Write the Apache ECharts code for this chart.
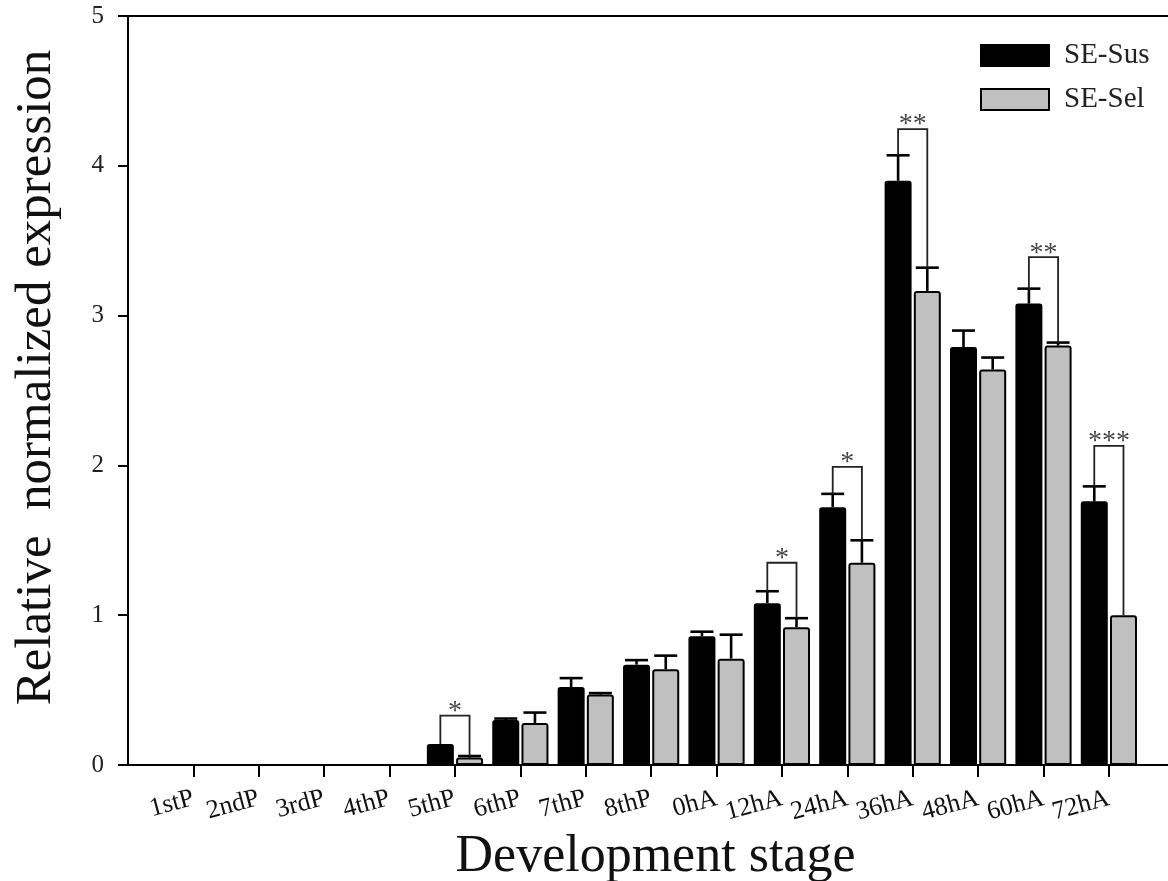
<!DOCTYPE html>
<html>
<head>
<meta charset="utf-8">
<script src="https://cdn.jsdelivr.net/npm/echarts@6/dist/echarts.min.js"></script>
<style>html,body{margin:0;padding:0;background:#fff;}#c{width:1168px;height:881px;}</style>
</head>
<body>
<div id="c"></div>
<script>
const categories = ['1stP','2ndP','3rdP','4thP','5thP','6thP','7thP','8thP','0hA','12hA','24hA','36hA','48hA','60hA','72hA'];
const positions = [1,2,3,4,5,6,7,8,9,10,11,12,13,14,15];
const susValues = [0,0,0,0,0.14,0.30,0.52,0.67,0.86,1.08,1.72,3.90,2.79,3.08,1.76];
const susErrors = [0,0,0,0,0,0.01,0.06,0.03,0.03,0.08,0.09,0.17,0.11,0.10,0.10];
const selValues = [0,0,0,0,0.05,0.28,0.47,0.64,0.71,0.92,1.35,3.165,2.64,2.80,1.00];
const selErrors = [0,0,0,0,0.01,0.07,0.01,0.09,0.16,0.06,0.15,0.155,0.08,0.02,0];
const sigPositions = [5,10,11,12,14,15];
const sigHeights = [0.33,1.35,1.99,4.245,3.39,2.13];
const sigLabels = ['*','*','*','**','**','***'];
const yTicks = [0,1,2,3,4,5];

const FONT = '"Liberation Serif","Times New Roman",serif';
const BAR_W = 27;
const GAP_PX = 2.2;
const OFF = (BAR_W + GAP_PX) / 2;

function errRenderer(sign) {
  return function (params, api) {
    const x = api.value(0), v = api.value(1), e = api.value(2);
    if (!(e > 0)) return;
    const p0 = api.coord([x, v]);
    const p1 = api.coord([x, v + e]);
    const cx = p0[0] + sign * OFF;
    const st = { stroke: '#000', lineWidth: 2.6 };
    return {
      type: 'group',
      children: [
        { type: 'line', shape: { x1: cx, y1: p0[1], x2: cx, y2: p1[1] }, style: st },
        { type: 'line', shape: { x1: cx - 11.5, y1: p1[1], x2: cx + 11.5, y2: p1[1] }, style: st }
      ]
    };
  };
}

const sigData = sigPositions.map((p, k) => {
  const i = p - 1;
  return [p, sigHeights[k], susValues[i] + susErrors[i], selValues[i] + selErrors[i], sigLabels[k]];
});

const chart = echarts.init(document.getElementById('c'));
chart.setOption({
  animation: false,
  backgroundColor: '#fff',
  grid: { left: 128, right: -3, top: 16, bottom: 116, containLabel: false, outerBoundsMode: 'none',
          show: true, borderColor: '#000', borderWidth: 2, backgroundColor: 'transparent' },
  legend: {
    data: ['SE-Sus', 'SE-Sel'],
    orient: 'vertical',
    left: 980, top: 41, padding: 0,
    itemWidth: 68, itemHeight: 21, itemGap: 15,
    icon: 'rect',
    textStyle: { fontFamily: FONT, fontSize: 29, color: '#222', padding: [0, 0, 0, 10] }
  },
  xAxis: {
    type: 'value', min: 0, max: 15.95, interval: 1,
    name: 'Development stage', nameLocation: 'middle', nameGap: 64,
    nameTextStyle: { fontFamily: FONT, fontSize: 52, color: '#111', padding: [0, 0, 0, 12] },
    axisLine: { show: true, lineStyle: { color: '#000', width: 2 } },
    axisTick: { show: true, customValues: positions, length: 12, lineStyle: { color: '#000', width: 2 } },
    axisLabel: {
      customValues: positions, rotate: 15, margin: 33,
      fontFamily: FONT, fontSize: 26, color: '#111',
      formatter: v => categories[Math.round(v) - 1] || ''
    },
    splitLine: { show: false }
  },
  yAxis: {
    type: 'value', min: 0, max: 5, interval: 1,
    name: 'Relative  normalized expression', nameLocation: 'middle', nameGap: 66, nameRotate: 90,
    nameTextStyle: { fontFamily: FONT, fontSize: 51, color: '#111', padding: [0, 0, 0, 26] },
    axisLine: { show: true, lineStyle: { color: '#000', width: 2 } },
    axisTick: { show: true, length: 10, lineStyle: { color: '#000', width: 2 } },
    axisLabel: { margin: 24, fontFamily: FONT, fontSize: 25, color: '#222', customValues: yTicks },
    splitLine: { show: false }
  },
  series: [
    {
      name: 'SE-Sus', type: 'bar', barWidth: BAR_W, barGap: (GAP_PX / BAR_W * 100) + '%',
      itemStyle: { color: '#000', borderColor: '#000', borderWidth: 1.5, borderRadius: [2, 2, 0, 0] },
      data: positions.map((p, i) => [p, susValues[i]]), z: 2
    },
    {
      name: 'SE-Sel', type: 'bar', barWidth: BAR_W,
      itemStyle: { color: '#c0c0c0', borderColor: '#000', borderWidth: 2, borderRadius: [2, 2, 0, 0] },
      data: positions.map((p, i) => [p, selValues[i]]), z: 2
    },
    {
      type: 'custom', renderItem: errRenderer(-1), z: 3, silent: true,
      data: positions.map((p, i) => [p, susValues[i], susErrors[i]])
    },
    {
      type: 'custom', renderItem: errRenderer(1), z: 3, silent: true,
      data: positions.map((p, i) => [p, selValues[i], selErrors[i]])
    },
    {
      type: 'custom', z: 4, silent: true,
      renderItem: function (params, api) {
        const x = api.value(0), h = api.value(1), a = api.value(2), b = api.value(3);
        const label = sigData[params.dataIndex][4];
        const top = api.coord([x, h]);
        const pa = api.coord([x, a]);
        const pb = api.coord([x, b]);
        const xl = top[0] - OFF, xr = top[0] + OFF;
        return {
          type: 'group',
          children: [
            { type: 'polyline', shape: { points: [[xl, pa[1]], [xl, top[1]], [xr, top[1]], [xr, pb[1]]] },
              style: { stroke: '#222', lineWidth: 1.8, fill: null } },
            { type: 'text', x: top[0], y: top[1] - 4,
              style: { text: label, fontFamily: FONT, fontSize: 28, fill: '#444', align: 'center', verticalAlign: 'middle' } }
          ]
        };
      },
      data: sigData.map(d => [d[0], d[1], d[2], d[3]])
    }
  ]
});
</script>
</body>
</html>
